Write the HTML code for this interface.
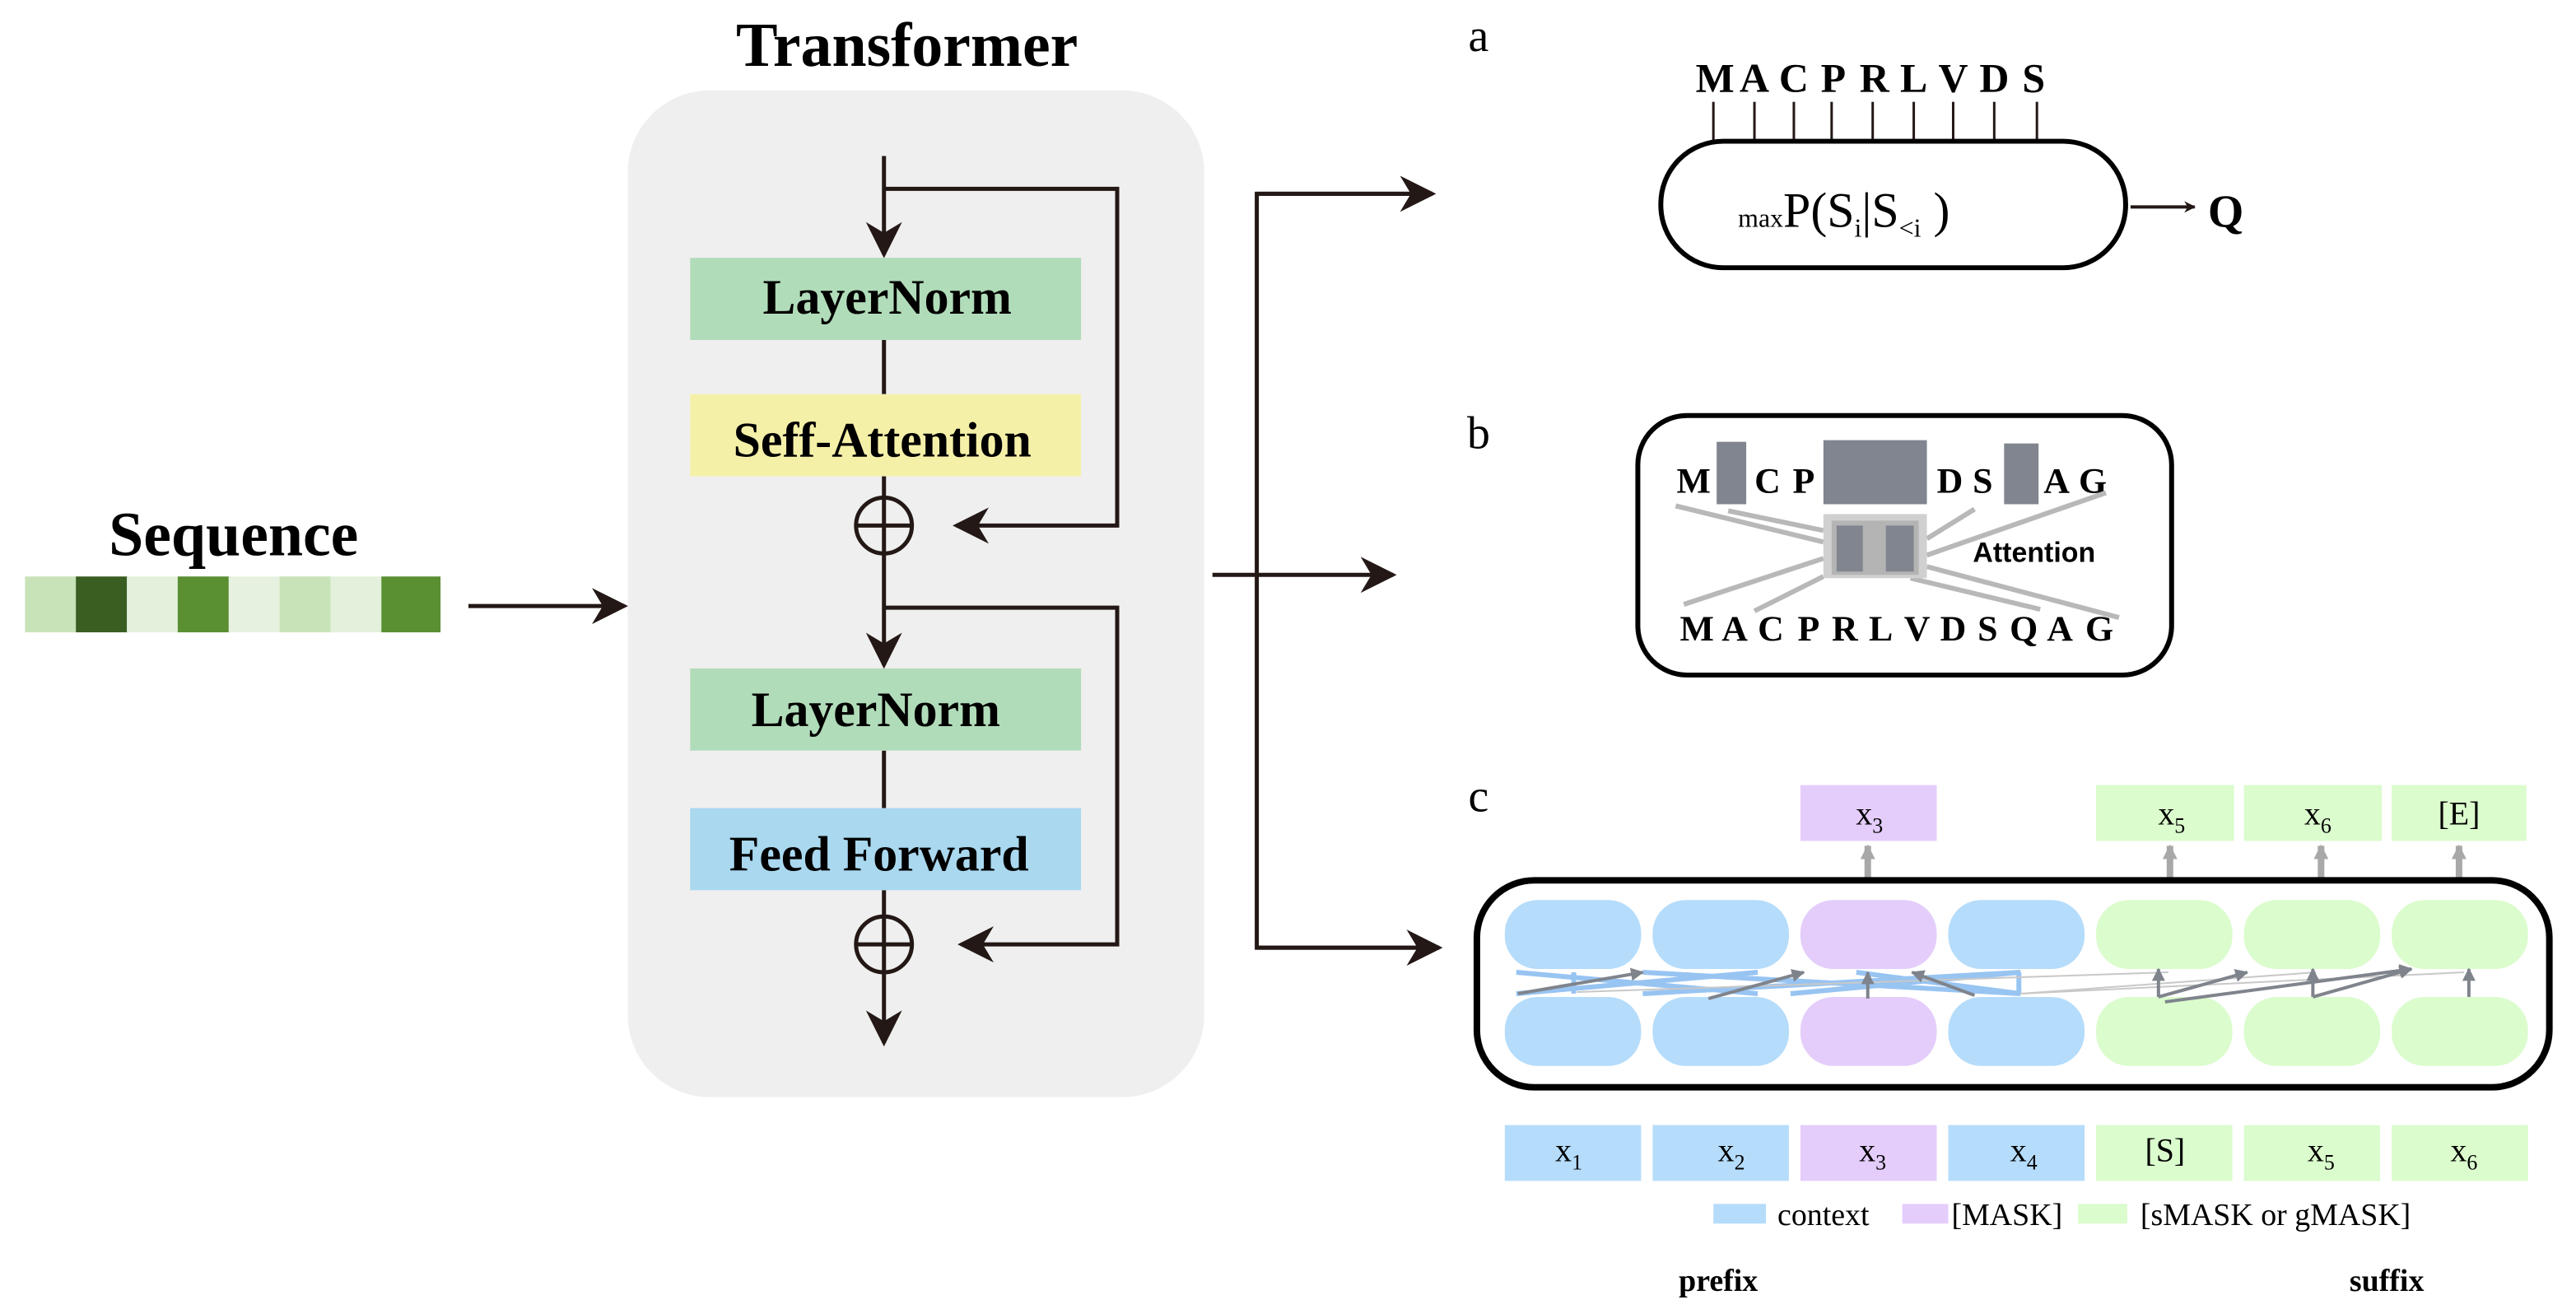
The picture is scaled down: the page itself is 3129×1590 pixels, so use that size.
<!DOCTYPE html>
<html><head><meta charset="utf-8"><style>html,body{margin:0;padding:0;background:#fff}svg{display:block}</style></head>
<body>
<svg width="3129" height="1590" viewBox="0 0 1568 797" xmlns="http://www.w3.org/2000/svg" font-family="Liberation Serif, serif">
<defs>
<marker id="ah" viewBox="0 0 10 10" refX="9" refY="5" markerWidth="7" markerHeight="7" markerUnits="userSpaceOnUse" orient="auto"><path d="M0,0 L10,5 L0,10 L3,5 z" fill="#231815"/></marker>
<marker id="ab" viewBox="0 0 10 10" refX="9" refY="5" markerWidth="28" markerHeight="22" markerUnits="userSpaceOnUse" orient="auto"><path d="M0,0 L10,5 L0,10 L3,5 z" fill="#231815"/></marker>
<marker id="ag" viewBox="0 0 10 10" refX="9" refY="5" markerWidth="9" markerHeight="11" markerUnits="userSpaceOnUse" orient="auto"><path d="M0,0 L10,5 L0,10 z" fill="#a8a8a8"/></marker>
<marker id="ad" viewBox="0 0 10 10" refX="9" refY="5" markerWidth="8" markerHeight="8" markerUnits="userSpaceOnUse" orient="auto"><path d="M0,0 L10,5 L0,10 z" fill="#7f848c"/></marker>
</defs>
<text x="552" y="40" font-size="38" font-weight="bold" text-anchor="middle">Transformer</text>
<rect x="382" y="55" width="351" height="613" rx="50" fill="#efefef"/>
<g stroke="#231815" stroke-width="2.5" fill="none">
<line x1="538" y1="95" x2="538" y2="155" marker-end="url(#ab)"/>
<polyline points="538,115 680,115 680,320 582,320" marker-end="url(#ab)"/>
<line x1="538" y1="207" x2="538" y2="240"/>
<line x1="538" y1="290" x2="538" y2="303"/>
<circle cx="538" cy="320" r="17"/>
<line x1="521" y1="320" x2="555" y2="320"/>
<line x1="538" y1="303" x2="538" y2="405" marker-end="url(#ab)"/>
<polyline points="538,370 680,370 680,575 585,575" marker-end="url(#ab)"/>
<line x1="538" y1="457" x2="538" y2="492"/>
<line x1="538" y1="542" x2="538" y2="558"/>
<circle cx="538" cy="575" r="17"/>
<line x1="521" y1="575" x2="555" y2="575"/>
<line x1="538" y1="558" x2="538" y2="635" marker-end="url(#ab)"/>
</g>
<rect x="420" y="157" width="238" height="50" fill="#b1dcb9"/>
<text x="540" y="191" font-size="30" font-weight="bold" text-anchor="middle">LayerNorm</text>
<rect x="420" y="240" width="238" height="50" fill="#f5f0a8"/>
<text x="537" y="278" font-size="30" font-weight="bold" text-anchor="middle">Seff-Attention</text>
<rect x="420" y="407" width="238" height="50" fill="#b1dcb9"/>
<text x="533" y="442" font-size="30" font-weight="bold" text-anchor="middle">LayerNorm</text>
<rect x="420" y="492" width="238" height="50" fill="#a9d8ef"/>
<text x="535" y="530" font-size="30" font-weight="bold" text-anchor="middle">Feed Forward</text>
<text x="142" y="338" font-size="38" font-weight="bold" text-anchor="middle">Sequence</text>
<rect x="15" y="351" width="32" height="34" fill="#c8e3b8"/>
<rect x="46" y="351" width="32" height="34" fill="#3a5e22"/>
<rect x="77" y="351" width="32" height="34" fill="#e3f0dc"/>
<rect x="108" y="351" width="32" height="34" fill="#5a8f32"/>
<rect x="139" y="351" width="32" height="34" fill="#e6f2df"/>
<rect x="170" y="351" width="32" height="34" fill="#c8e3b8"/>
<rect x="201" y="351" width="32" height="34" fill="#e3f0dc"/>
<rect x="232" y="351" width="36" height="34" fill="#5a8f32"/>
<g stroke="#231815" stroke-width="2.5" fill="none">
<line x1="285" y1="369" x2="380" y2="369" marker-end="url(#ab)"/>
<line x1="738" y1="350" x2="848" y2="350" marker-end="url(#ab)"/>
<polyline points="872,118 765,118 765,577 876,577"/>
<line x1="765" y1="118" x2="872" y2="118" marker-end="url(#ab)"/>
<line x1="765" y1="577" x2="876" y2="577" marker-end="url(#ab)"/>
</g>
<text x="900" y="31" font-size="28" text-anchor="middle">a</text>
<text x="900" y="273" font-size="28" text-anchor="middle">b</text>
<text x="900" y="494" font-size="28" text-anchor="middle">c</text>
<g font-size="25" font-weight="bold" text-anchor="middle">
<text x="1044" y="56">M</text><text x="1068" y="56">A</text><text x="1092" y="56">C</text><text x="1116" y="56">P</text><text x="1141" y="56">R</text><text x="1165" y="56">L</text><text x="1189" y="56">V</text><text x="1214" y="56">D</text><text x="1238" y="56">S</text>
</g>
<g stroke="#231815" stroke-width="1.5">
<line x1="1043" y1="62" x2="1043" y2="86"/><line x1="1068" y1="62" x2="1068" y2="86"/><line x1="1092" y1="62" x2="1092" y2="86"/><line x1="1115" y1="62" x2="1115" y2="86"/><line x1="1140" y1="62" x2="1140" y2="86"/><line x1="1165" y1="62" x2="1165" y2="86"/><line x1="1189" y1="62" x2="1189" y2="86"/><line x1="1214" y1="62" x2="1214" y2="86"/><line x1="1240" y1="62" x2="1240" y2="86"/>
</g>
<rect x="1011" y="86" width="283" height="77" rx="38" fill="none" stroke="#000" stroke-width="3"/>
<text x="1058" y="138" font-size="30"><tspan font-size="16">max</tspan><tspan>P(S</tspan><tspan font-size="16" dy="6">i</tspan><tspan dy="-6">|S</tspan><tspan font-size="16" dy="6">&lt;i</tspan><tspan dy="-6"> )</tspan></text>
<line x1="1297" y1="126" x2="1336" y2="126" stroke="#231815" stroke-width="2" marker-end="url(#ah)"/>
<text x="1355" y="138" font-size="28" font-weight="bold" text-anchor="middle">Q</text>
<rect x="997" y="253" width="325" height="158" rx="30" fill="none" stroke="#000" stroke-width="3"/>
<g font-size="22" font-weight="bold" text-anchor="middle">
<text x="1031" y="300">M</text><text x="1076" y="300">C</text><text x="1098" y="300">P</text><text x="1187" y="300">D</text><text x="1207" y="300">S</text><text x="1252" y="300">A</text><text x="1274" y="300">G</text>
</g>
<rect x="1045" y="269" width="18" height="38" fill="#80858f"/>
<rect x="1110" y="268" width="63" height="39" fill="#80858f"/>
<rect x="1220" y="270" width="21" height="37" fill="#80858f"/>
<g stroke="#b8b8b8" stroke-width="3">
<line x1="1020" y1="308" x2="1110" y2="330"/><line x1="1052" y1="311" x2="1110" y2="323"/>
<line x1="1202" y1="310" x2="1173" y2="328"/><line x1="1282" y1="300" x2="1173" y2="338"/>
<line x1="1110" y1="340" x2="1025" y2="368"/><line x1="1110" y1="351" x2="1068" y2="372"/>
<line x1="1173" y1="345" x2="1290" y2="376"/><line x1="1163" y1="352" x2="1242" y2="371"/>
</g>
<rect x="1110" y="313" width="63" height="39" fill="#d0d0d0"/>
<rect x="1115" y="317" width="53" height="33" fill="#b4b4b4"/>
<rect x="1118" y="320" width="16" height="28" fill="#80858f"/>
<rect x="1148" y="320" width="17" height="28" fill="#80858f"/>
<text x="1201" y="342" font-family="Liberation Sans, sans-serif" font-size="17" font-weight="bold">Attention</text>
<g font-size="22" font-weight="bold" text-anchor="middle">
<text x="1033" y="390">M</text><text x="1056" y="390">A</text><text x="1078" y="390">C</text><text x="1101" y="390">P</text><text x="1123" y="390">R</text><text x="1145" y="390">L</text><text x="1167" y="390">V</text><text x="1189" y="390">D</text><text x="1210" y="390">S</text><text x="1232" y="390">Q</text><text x="1254" y="390">A</text><text x="1278" y="390">G</text>
</g>
<rect x="1096" y="478" width="83" height="34" fill="#e4cdfb"/>
<rect x="1276" y="478" width="84" height="34" fill="#dbfccd"/>
<rect x="1366" y="478" width="84" height="34" fill="#dbfccd"/>
<rect x="1456" y="478" width="82" height="34" fill="#dbfccd"/>
<g font-size="20" text-anchor="middle">
<text x="1138" y="502">x<tspan font-size="13" dy="5">3</tspan></text>
<text x="1322" y="502">x<tspan font-size="13" dy="5">5</tspan></text>
<text x="1411" y="502">x<tspan font-size="13" dy="5">6</tspan></text>
<text x="1497" y="502">[E]</text>
</g>
<g stroke="#a8a8a8" stroke-width="4">
<line x1="1137" y1="536" x2="1137" y2="515" marker-end="url(#ag)"/>
<line x1="1321" y1="536" x2="1321" y2="515" marker-end="url(#ag)"/>
<line x1="1413" y1="536" x2="1413" y2="515" marker-end="url(#ag)"/>
<line x1="1497" y1="536" x2="1497" y2="515" marker-end="url(#ag)"/>
</g>
<rect x="899" y="536" width="653" height="126" rx="35" fill="#fff" stroke="#000" stroke-width="4"/>
<g>
<rect x="916" y="548" width="83" height="42" rx="20" fill="#b5dcfb"/><rect x="1006" y="548" width="83" height="42" rx="20" fill="#b5dcfb"/><rect x="1096" y="548" width="83" height="42" rx="20" fill="#e4cdfb"/><rect x="1186" y="548" width="83" height="42" rx="20" fill="#b5dcfb"/><rect x="1276" y="548" width="83" height="42" rx="20" fill="#dbfccd"/><rect x="1366" y="548" width="83" height="42" rx="20" fill="#dbfccd"/><rect x="1456" y="548" width="83" height="42" rx="20" fill="#dbfccd"/>
<rect x="916" y="607" width="83" height="42" rx="20" fill="#b5dcfb"/><rect x="1006" y="607" width="83" height="42" rx="20" fill="#b5dcfb"/><rect x="1096" y="607" width="83" height="42" rx="20" fill="#e4cdfb"/><rect x="1186" y="607" width="83" height="42" rx="20" fill="#b5dcfb"/><rect x="1276" y="607" width="83" height="42" rx="20" fill="#dbfccd"/><rect x="1366" y="607" width="83" height="42" rx="20" fill="#dbfccd"/><rect x="1456" y="607" width="83" height="42" rx="20" fill="#dbfccd"/>
</g>
<g stroke="#7fb6f0" stroke-width="3" opacity="0.8">
<line x1="923" y1="605" x2="1070" y2="592"/><line x1="923" y1="592" x2="1070" y2="605"/>
<line x1="1000" y1="592" x2="1230" y2="605"/><line x1="1000" y1="605" x2="1230" y2="592"/>
<line x1="1090" y1="605" x2="1230" y2="592"/><line x1="1130" y1="592" x2="1230" y2="605"/>
<line x1="958" y1="592" x2="958" y2="605"/><line x1="1229" y1="592" x2="1229" y2="605"/>
</g>
<g stroke="#c8c8c8" stroke-width="1">
<line x1="1230" y1="605" x2="1500" y2="592"/><line x1="1230" y1="605" x2="1410" y2="592"/><line x1="960" y1="604" x2="1320" y2="592"/>
</g>
<g stroke="#7f848c" stroke-width="2">
<line x1="924" y1="605" x2="1000" y2="592" marker-end="url(#ad)"/>
<line x1="1040" y1="608" x2="1098" y2="592" marker-end="url(#ad)"/>
<line x1="1137" y1="608" x2="1137" y2="592" marker-end="url(#ad)"/>
<line x1="1202" y1="606" x2="1164" y2="592" marker-end="url(#ad)"/>
<line x1="1314" y1="607" x2="1314" y2="590" marker-end="url(#ad)"/>
<line x1="1314" y1="607" x2="1368" y2="592" marker-end="url(#ad)"/>
<line x1="1318" y1="610" x2="1468" y2="590" marker-end="url(#ad)"/>
<line x1="1408" y1="607" x2="1408" y2="590" marker-end="url(#ad)"/>
<line x1="1408" y1="607" x2="1468" y2="590" marker-end="url(#ad)"/>
<line x1="1503" y1="607" x2="1503" y2="590" marker-end="url(#ad)"/>
</g>
<rect x="916" y="685" width="83" height="34" fill="#b5dcfb"/><rect x="1006" y="685" width="83" height="34" fill="#b5dcfb"/><rect x="1096" y="685" width="83" height="34" fill="#e4cdfb"/><rect x="1186" y="685" width="83" height="34" fill="#b5dcfb"/><rect x="1276" y="685" width="83" height="34" fill="#dbfccd"/><rect x="1366" y="685" width="83" height="34" fill="#dbfccd"/><rect x="1456" y="685" width="83" height="34" fill="#dbfccd"/>
<g font-size="20" text-anchor="middle">
<text x="955" y="707">x<tspan font-size="13" dy="5">1</tspan></text>
<text x="1054" y="707">x<tspan font-size="13" dy="5">2</tspan></text>
<text x="1140" y="707">x<tspan font-size="13" dy="5">3</tspan></text>
<text x="1232" y="707">x<tspan font-size="13" dy="5">4</tspan></text>
<text x="1318" y="707">[S]</text>
<text x="1413" y="707">x<tspan font-size="13" dy="5">5</tspan></text>
<text x="1500" y="707">x<tspan font-size="13" dy="5">6</tspan></text>
</g>
<rect x="1043" y="733" width="32" height="12" fill="#b5dcfb"/>
<text x="1082" y="746" font-size="19">context</text>
<rect x="1158" y="733" width="28" height="12" fill="#e4cdfb"/>
<text x="1188" y="746" font-size="19">[MASK]</text>
<rect x="1265" y="733" width="30" height="12" fill="#dbfccd"/>
<text x="1303" y="746" font-size="19">[sMASK or gMASK]</text>
<text x="1046" y="786" font-size="19" font-weight="bold" text-anchor="middle">prefix</text>
<text x="1453" y="786" font-size="19" font-weight="bold" text-anchor="middle">suffix</text>
</svg>
</body></html>
